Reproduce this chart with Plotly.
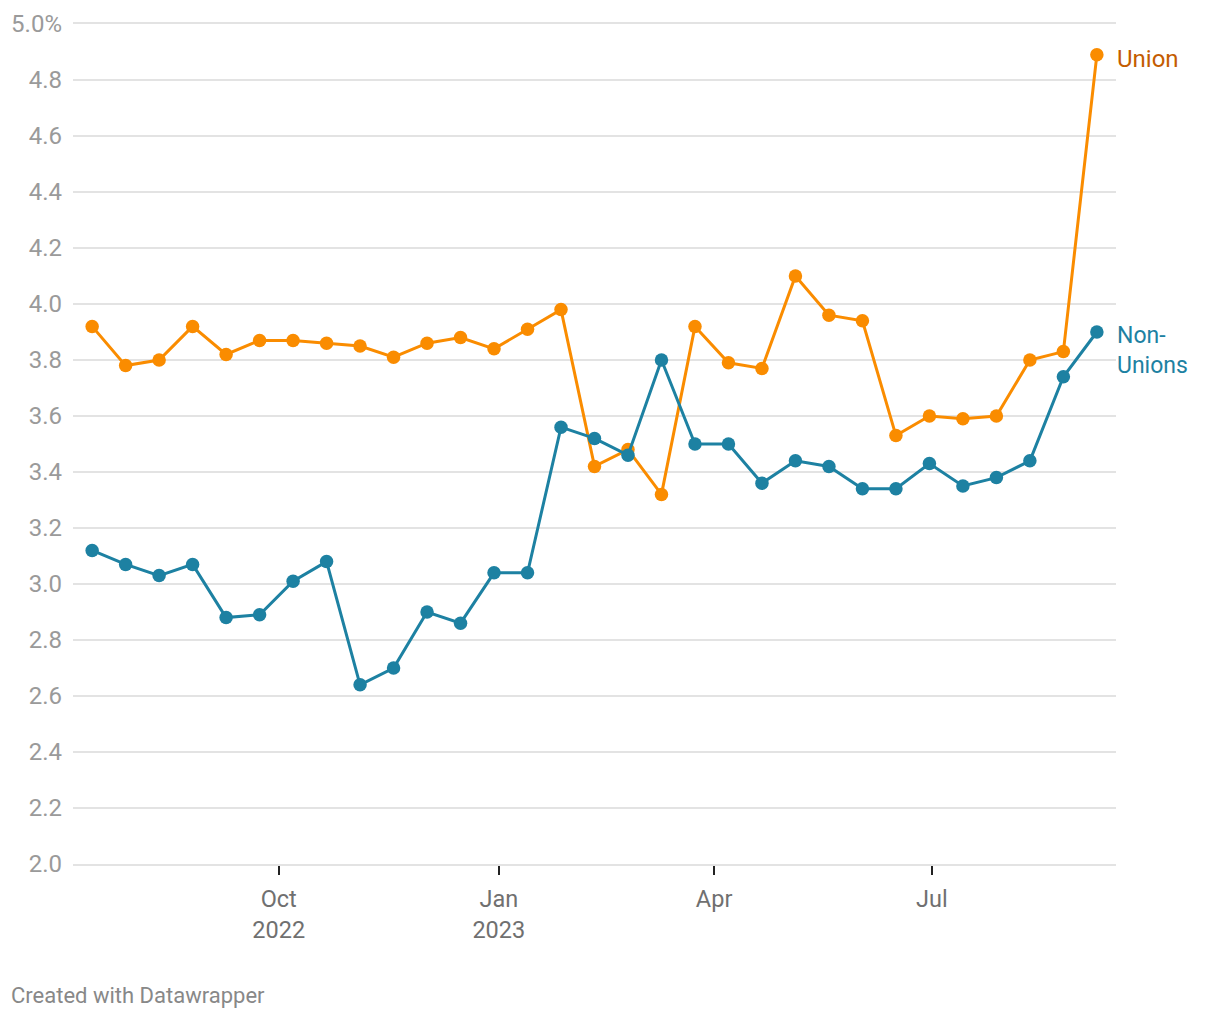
import datetime as dt
import plotly.graph_objects as go

start = dt.date(2022, 7, 15)
dates = [start + dt.timedelta(days=14 * i) for i in range(31)]

union = [3.92, 3.78, 3.80, 3.92, 3.82, 3.87, 3.87, 3.86, 3.85, 3.81,
         3.86, 3.88, 3.84, 3.91, 3.98, 3.42, 3.48, 3.32, 3.92, 3.79,
         3.77, 4.10, 3.96, 3.94, 3.53, 3.60, 3.59, 3.60, 3.80, 3.83, 4.89]
non_union = [3.12, 3.07, 3.03, 3.07, 2.88, 2.89, 3.01, 3.08, 2.64, 2.70,
             2.90, 2.86, 3.04, 3.04, 3.56, 3.52, 3.46, 3.80, 3.50, 3.50,
             3.36, 3.44, 3.42, 3.34, 3.34, 3.43, 3.35, 3.38, 3.44, 3.74, 3.90]

y_ticks = [2.0, 2.2, 2.4, 2.6, 2.8, 3.0, 3.2, 3.4, 3.6, 3.8, 4.0, 4.2, 4.4, 4.6, 4.8, 5.0]
y_labels = ["2.0", "2.2", "2.4", "2.6", "2.8", "3.0", "3.2", "3.4", "3.6", "3.8",
            "4.0", "4.2", "4.4", "4.6", "4.8", "5.0%"]
x_ticks = ["2022-10-01", "2023-01-01", "2023-04-01", "2023-07-01"]
x_labels = ["Oct<br>2022", "Jan<br>2023", "Apr", "Jul"]

ORANGE = "#fa8c00"
TEAL = "#1d81a2"
GRID = "#e3e3e3"
FONT = "Roboto"

fig = go.Figure()
fig.add_trace(go.Scatter(x=dates, y=union, mode="lines+markers", name="Union",
                         line=dict(color=ORANGE, width=3),
                         marker=dict(color=ORANGE, size=13.5)))
fig.add_trace(go.Scatter(x=dates, y=non_union, mode="lines+markers", name="Non-Unions",
                         line=dict(color=TEAL, width=3),
                         marker=dict(color=TEAL, size=13.5)))

fig.add_annotation(x=dates[-1], y=union[-1], xref="x", yref="y", text="Union",
                   showarrow=False, xanchor="left", yanchor="middle", xshift=18, yshift=-4,
                   font=dict(family=FONT, size=24, color="#c45c00"))
fig.add_annotation(x=dates[-1], y=non_union[-1], xref="x", yref="y", text="Non-<br>Unions",
                   showarrow=False, xanchor="left", yanchor="top", xshift=18, yshift=12,
                   align="left",
                   font=dict(family=FONT, size=23, color=TEAL))
fig.add_annotation(x=(9 - 73) / 1043, y=(864 - 996) / 840, xref="paper", yref="paper",
                   text="Created with Datawrapper", showarrow=False,
                   xanchor="left", yanchor="middle",
                   font=dict(family=FONT, size=22, color="#888888"))

fig.update_layout(
    width=1204, height=1004,
    margin=dict(l=65, r=96, t=16, b=148),
    paper_bgcolor="white", plot_bgcolor="white",
    showlegend=False, hovermode=False,
    font=dict(family=FONT),
    xaxis=dict(type="date", range=["2022-07-07", "2023-09-16"],
               tickvals=x_ticks, ticktext=x_labels, automargin=False,
               showgrid=False, zeroline=False,
               showline=True, mirror=True, linecolor=GRID, linewidth=2,
               layer="below traces",
               ticks="outside", ticklen=9, tickwidth=2, tickcolor="#222222",
               ticklabelstandoff=4,
               tickfont=dict(family=FONT, size=23.5, color="#707070")),
    yaxis=dict(range=[2.0, 5.0], tickvals=y_ticks, ticktext=y_labels,
               automargin=False,
               showgrid=True, gridcolor=GRID, gridwidth=2,
               zeroline=False, showline=False, ticks="",
               ticklabelstandoff=10, layer="below traces",
               tickfont=dict(family=FONT, size=24, color="#9a9a9a")),
)

fig.write_html("out.html")
